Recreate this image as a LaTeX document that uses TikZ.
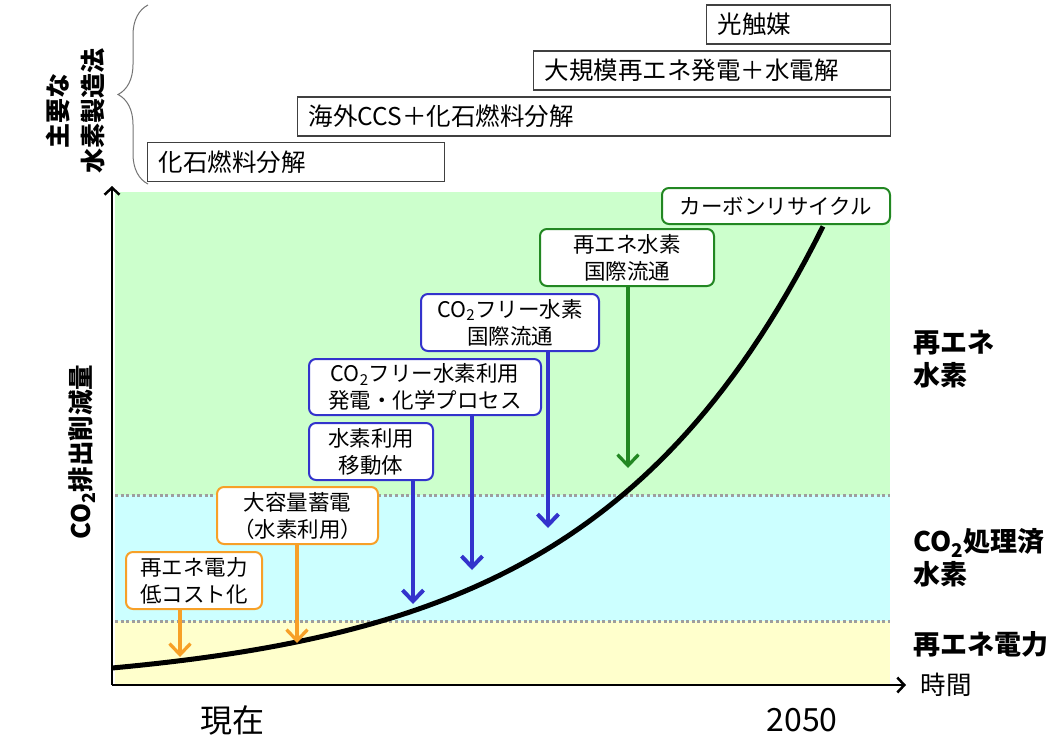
\documentclass[tikz,border=0pt]{standalone}
\usepackage{fontspec}
\setmainfont{Noto Sans CJK JP}
\usepackage{tikz}
\usetikzlibrary{arrows.meta}
\usetikzlibrary{decorations.pathreplacing}

\definecolor{bandgreen}{RGB}{204,255,204}
\definecolor{bandcyan}{RGB}{204,255,255}
\definecolor{bandyellow}{RGB}{255,255,204}
\definecolor{linegreen}{RGB}{34,135,34}
\definecolor{lineblue}{RGB}{51,51,204}
\definecolor{lineorange}{RGB}{247,160,40}

\begin{document}
\begin{tikzpicture}[x=1pt, y=-1pt,
    topbox/.style={draw=black!75, line width=1.2pt, anchor=west, inner xsep=11pt, inner ysep=0pt,
        minimum height=39pt, align=left, text width=#1, font=\fontsize{24.5}{28}\selectfont},
    rbox/.style={draw=#1, fill=white, line width=2pt, rounded corners=7pt, align=center,
        inner sep=0pt, font=\fontsize{21.5}{27}\selectfont},
    zone/.style={anchor=west, align=left, font=\bfseries\fontsize{27}{33}\selectfont},
    band/.style={draw=black!38, line width=3pt, dash pattern=on 3pt off 2.6pt},
    axis/.style={line width=2.5pt, -{Straight Barb[length=7pt, width=15pt]}},
    carrow/.style={draw=#1, line width=3.3pt, -{Straight Barb[length=11pt, width=21pt]}}]
    \useasboundingbox (0,0) rectangle (1055,740);
    \fill[bandgreen] (115,192) rectangle (890,495);
    \fill[bandcyan] (115,495) rectangle (890,621);
    \fill[bandyellow] (115,621) rectangle (890,685);
    \draw[band] (115,495) -- (890,495);
    \draw[band] (115,621) -- (890,621);

    \coordinate (O) at (112,685);
    \coordinate (ytop) at (112,186);
    \coordinate (xend) at (906,685);
    \draw[axis] (O) -- (ytop);
    \draw[axis] (O) -- (xend);
    \draw[line width=5pt, domain=0:711, samples=80] plot ({112+\x},{689.25-21.25*exp(0.00434*\x)});

    \node[rotate=90, align=center, font=\bfseries\fontsize{25}{35}\selectfont] (method) at (75,111) {主要な\\水素製造法};
    \draw[black!55, line width=1pt, decorate, decoration={brace, amplitude=30pt}] (148,184) -- (148,5);
    \node[topbox=162pt] (photo) at (706,24.5) {光触媒};
    \node[topbox=335pt] (electro) at (533,70.5) {大規模再エネ発電＋水電解};
    \node[topbox=571pt] (ccs) at (297,116.5) {海外CCS＋化石燃料分解};
    \node[topbox=275pt] (fossil) at (147,162) {化石燃料分解};

    \node[rotate=90, font=\bfseries\fontsize{25.5}{28}\selectfont] (ylab) at (82,452) {CO\textsubscript{2}排出削減量};
    \node[font=\fontsize{32}{34}\selectfont] (now) at (232,720) {現在};
    \node[font=\fontsize{32}{34}\selectfont] (y2050) at (802,720) {2050};
    \node[anchor=west, font=\fontsize{25.5}{28}\selectfont] (time) at (917,685) {時間};

    \node[zone] (zre) at (910,359) {再エネ\\水素};
    \node[zone] (zccs) at (910,558) {CO\textsubscript{2}処理済\\水素};
    \node[zone] (zpow) at (910,644) {再エネ電力};

    \node[rbox=linegreen, minimum width=228pt, minimum height=36pt] (recycle) at (776,206) {カーボンリサイクル};
    \node[rbox=linegreen, minimum width=174pt, minimum height=57pt] (retrade) at (627,257.5) {再エネ水素\\国際流通};
    \node[rbox=lineblue, minimum width=178pt, minimum height=57pt] (cotrade) at (510,322.5) {CO\textsubscript{2}フリー水素\\国際流通};
    \node[rbox=lineblue, minimum width=232pt, minimum height=56pt] (couse) at (425,387) {CO\textsubscript{2}フリー水素利用\\発電・化学プロセス};
    \node[rbox=lineblue, minimum width=124pt, minimum height=57pt] (mobile) at (371,451.5) {水素利用\\移動体};
    \node[rbox=lineorange, minimum width=161pt, minimum height=57pt] (storage) at (297.5,515.5) {大容量蓄電\\（水素利用）};
    \node[rbox=lineorange, minimum width=136pt, minimum height=57pt] (lowcost) at (194,580.5) {再エネ電力\\低コスト化};

    \coordinate (t1) at (628,468);
    \coordinate (t2) at (548,528);
    \coordinate (t3) at (472,570);
    \coordinate (t4) at (413,604);
    \coordinate (t5) at (297,643);
    \coordinate (t6) at (180,657);
    \draw[carrow=linegreen] (retrade.south -| t1) -- (t1);
    \draw[carrow=lineblue, line width=4pt] (cotrade.south -| t2) -- (t2);
    \draw[carrow=lineblue, line width=4pt] (couse.south -| t3) -- (t3);
    \draw[carrow=lineblue, line width=4pt] (mobile.south -| t4) -- (t4);
    \draw[carrow=lineorange] (storage.south -| t5) -- (t5);
    \draw[carrow=lineorange] (lowcost.south -| t6) -- (t6);
\end{tikzpicture}
\end{document}
